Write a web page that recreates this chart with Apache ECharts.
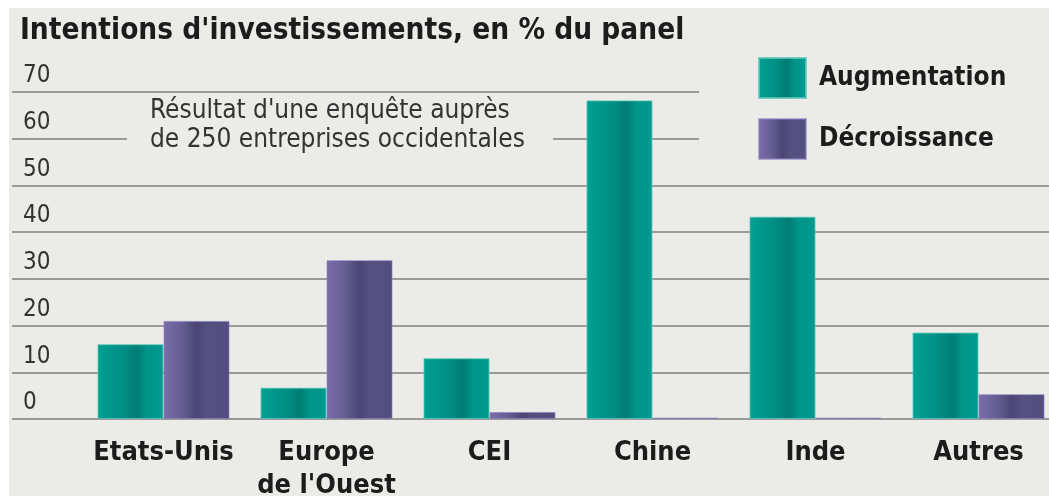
<!DOCTYPE html>
<html>
<head>
<meta charset="utf-8">
<title>Intentions d'investissements</title>
<script src="https://cdn.jsdelivr.net/npm/echarts@6/dist/echarts.min.js"></script>
</head>
<body style="margin:0;background:#ffffff;">
<div id="main" style="width:1049px;height:496px;"></div>
<script type="text/javascript">
	var myChart = echarts.init(document.getElementById('main'));

	// données
	var pays = ['Etats-Unis', 'Europe\nde l\'Ouest', 'CEI', 'Chine', 'Inde', 'Autres'];
	var augmentation = [16, 6.7, 13, 68.2, 43.3, 18.5];
	var decroissance = [21, 34, 1.5, 0.3, 0.3, 5.3];
	var graduations = [0, 10, 20, 30, 40, 50, 60, 70];

	var fond = '#ebebe7';
	var police = "'Liberation Sans Narrow', 'DejaVu Sans Condensed', sans-serif";

	var degradeVert = new echarts.graphic.LinearGradient(0, 0, 1, 0, [
		{offset: 0, color: '#00a193'},
		{offset: 0.4, color: '#008d83'},
		{offset: 0.6, color: '#007d74'},
		{offset: 0.75, color: '#009589'},
		{offset: 1, color: '#009a8e'}
	]);
	var degradeViolet = new echarts.graphic.LinearGradient(0, 0, 1, 0, [
		{offset: 0, color: '#7d6dac'},
		{offset: 0.3, color: '#625d90'},
		{offset: 0.5, color: '#4a4575'},
		{offset: 0.65, color: '#54507f'},
		{offset: 1, color: '#524e80'}
	]);

	var option = {
		backgroundColor: fond,
		animation: false,
		title: {
			text: 'Intentions d\'investissements, en % du panel',
			left: 15,
			top: 11,
			textStyle: {fontFamily: police, fontSize: 29.5, fontWeight: 'bold', color: '#1c1c1c'}
		},
		legend: {
			orient: 'vertical',
			left: 753,
			top: 52,
			icon: 'rect',
			itemWidth: 47,
			itemHeight: 40,
			itemGap: 19,
			textStyle: {fontFamily: police, fontSize: 26, fontWeight: 'bold', color: '#1c1c1c', padding: [0, 0, 4, 8]},
			data: ['Augmentation', 'Décroissance']
		},
		grid: [
			// grille des lignes horizontales
			{left: 12, right: 0, top: 92, bottom: 77, outerBoundsMode: 'none'},
			// grille des barres
			{left: 82, width: 978, top: 92, bottom: 77, outerBoundsMode: 'none'}
		],
		xAxis: [
			{gridIndex: 0, type: 'value', show: false, min: 0, max: 1},
			{
				gridIndex: 1,
				type: 'category',
				data: pays,
				axisLine: {show: false},
				axisTick: {show: false},
				axisLabel: {
					interval: 0,
					margin: 17,
					fontFamily: police,
					fontSize: 27,
					fontWeight: 'bold',
					lineHeight: 33,
					color: '#1c1c1c'
				}
			}
		],
		yAxis: [
			{
				gridIndex: 0,
				type: 'value',
				min: 0,
				max: 70,
				interval: 10,
				axisLine: {show: false},
				axisTick: {show: false},
				splitLine: {lineStyle: {color: '#9a9a9a', width: 2}},
				axisLabel: {
					inside: true,
					margin: 11,
					verticalAlign: 'bottom',
					padding: [0, 0, 4, 0],
					fontFamily: police,
					fontSize: 24,
					color: '#333333',
					formatter: function (v) { return graduations.indexOf(v) >= 0 ? String(v) : ''; }
				}
			},
			{gridIndex: 1, type: 'value', min: 0, max: 70, show: false, splitLine: {show: false}}
		],
		graphic: [
			{type: 'rect', z: 1, shape: {x: 127, y: 96, width: 426, height: 66}, style: {fill: fond}},
			{type: 'rect', z: 1, shape: {x: 699, y: 40, width: 350, height: 136}, style: {fill: fond}},
			{
				type: 'text', z: 5, x: 150, y: 97,
				style: {
					text: 'Résultat d\'une enquête auprès\nde 250 entreprises occidentales',
					font: '26px ' + police,
					lineHeight: 29,
					fill: '#333333'
				}
			},
			{type: 'rect', z: 10, shape: {x: 0, y: 0, width: 1049, height: 8}, style: {fill: '#ffffff'}},
			{type: 'rect', z: 10, shape: {x: 0, y: 0, width: 9, height: 496}, style: {fill: '#ffffff'}}
		],
		series: [
			{
				name: 'Augmentation',
				type: 'bar',
				xAxisIndex: 1,
				yAxisIndex: 1,
				barGap: '0%',
				barCategoryGap: '19%',
				z: 3,
				itemStyle: {color: degradeVert, borderColor: 'rgba(90,200,188,0.8)', borderWidth: 1},
				data: augmentation
			},
			{
				name: 'Décroissance',
				type: 'bar',
				xAxisIndex: 1,
				yAxisIndex: 1,
				z: 3,
				itemStyle: {color: degradeViolet, borderColor: 'rgba(140,125,190,0.6)', borderWidth: 1},
				data: decroissance
			}
		]
	};

	myChart.setOption(option);
</script>
</body>
</html>
